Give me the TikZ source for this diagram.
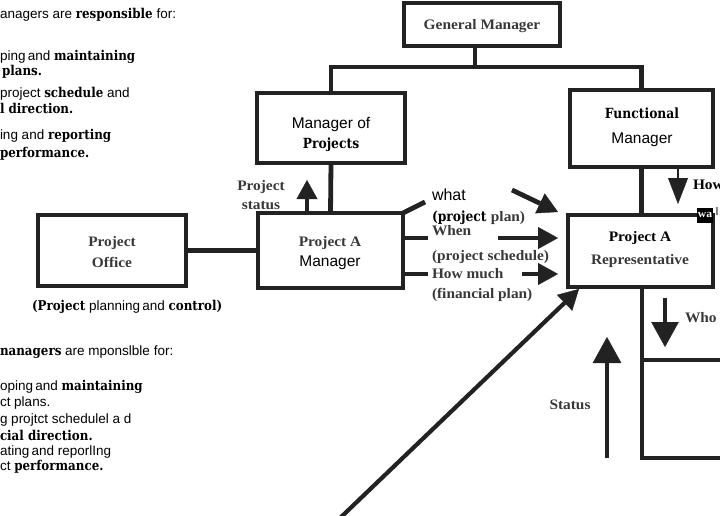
\documentclass[tikz,border=0pt]{standalone}
\usepackage{fontspec}
\setmainfont{Liberation Sans}
\newfontfamily\heavy{DejaVu Serif}[FakeStretch=0.88]
\newfontfamily\scn{Liberation Serif}[FakeStretch=1.06]
\usetikzlibrary{arrows.meta}
\definecolor{ink}{HTML}{222222}
\definecolor{scanink}{HTML}{383838}
\newcommand{\hv}[1]{{\heavy\bfseries #1}}

\begin{document}
\begin{tikzpicture}[x=1pt,y=-1pt,
  every node/.style={inner sep=0pt, outer sep=0pt},
  box/.style={draw=ink, line width=4.8pt, rectangle},
  wire/.style={draw=ink, line width=4.8pt},
  arr/.style={draw=ink, line width=4.8pt,
    -{Triangle[length=#1, width=1.1*#1, line width=0.4pt]}},
  arr/.default=20pt,
  body/.style={anchor=west, font=\fontsize{13.5}{15}\selectfont,
    text height=9.5pt, text depth=3pt},
  lab/.style={font=\fontsize{15.5}{17}\selectfont,
    text height=11pt, text depth=3.5pt},
  hvlab/.style={font=\heavy\bfseries\fontsize{14}{16}\selectfont,
    text height=10.5pt, text depth=3.5pt},
  scanlab/.style={font=\scn\bfseries\fontsize{14.5}{16}\selectfont,
    text=scanink, text height=10.5pt, text depth=3.5pt},
]
\useasboundingbox (0,0) rectangle (720,516);
\clip (0,0) rectangle (720,516);

% ---- responsibilities, first copy ----
\node[body] (t1) at (0,15)  {anagers are \hv{responsible} for:};
\node[body] (t2) at (0,57)  {ping\,and \hv{maintaining}};
\node[body] (t3) at (2,72)  {\hv{plans.}};
\node[body] (t4) at (0,94)  {project \hv{schedule} and};
\node[body] (t5) at (0,110) {\hv{l direction.}};
\node[body] (t6) at (0,136) {ing and \hv{reporting}};
\node[body] (t7) at (0,154) {\hv{performance.}};

% ---- responsibilities, second copy ----
\node[body] (pc) at (32,307) {\hv{(Project} planning\,and \hv{control)}};
\node[body] (b1) at (0,352) {\hv{nanagers} are mponslble for:};
\node[body] (b2) at (0,387) {oping\,and \hv{maintaining}};
\node[body] (b3) at (0,403) {ct plans.};
\node[body] (b4) at (0,420) {g projtct schedulel a d};
\node[body] (b5) at (0,437) {\hv{cial direction.}};
\node[body] (b6) at (0,452) {ating\,and reporlIng};
\node[body] (b7) at (0,467) {ct \hv{performance.}};

% ---- organisation boxes ----
\node[box, minimum width=156pt, minimum height=43pt] (gm)  at (482,24.5)  {};
\node[box, minimum width=148pt, minimum height=70pt] (mop) at (331,128)   {};
\node[box, minimum width=143pt, minimum height=77pt] (fm)  at (641.5,128.5) {};
\node[box, minimum width=145pt, minimum height=75pt] (pam) at (330.5,250.5) {};
\node[box, minimum width=148pt, minimum height=71pt] (po)  at (112,250.5) {};
\node[box, minimum width=145pt, minimum height=72pt] (par) at (640.5,251) {};
\node[box, minimum width=110pt, minimum height=98pt] (low) at (697,409)   {};

% box texts
\node[scanlab] (gmt)   at (482,26)  {General Manager};
\node[lab]     (mopt1) at (331,125) {Manager of};
\node[hvlab]   (mopt2) at (331,145) {Projects};
\node[hvlab]   (fmt1)  at (642,115) {Functional};
\node[lab]     (fmt2)  at (642,140) {Manager};
\node[scanlab] (pamt1) at (330,243) {Project A};
\node[lab]     (pamt2) at (330,263) {Manager};
\node[scanlab] (pot1)  at (112,243) {Project};
\node[scanlab] (pot2)  at (112,264) {Office};
\node[scanlab, text=black] (part1) at (640,238) {Project A};
\node[scanlab] (part2) at (640,261) {Representative};

% ---- tree lines ----
\coordinate (split) at (475,67);
\draw[wire] (gm.south -| split) -- (split);
\draw[wire] (mop.north) |- (split) -| (fm.north);
\draw[wire] (mop.south) -- (pam.north);
\draw[wire] (po.east) -- (pam.west);
\draw[wire] (fm.south) -- (fm.south |- par.north);
\draw[wire] (par.south -| low.west) -- (low.north west);

% ---- stubs from the project manager ----
\coordinate (whatend) at (425,202);
\coordinate (whenend) at (428,238);
\coordinate (muchend) at (428,274);
\draw[wire] (pam.north east) -- (whatend);
\draw[wire] (pam.east |- whenend) -- (whenend);
\draw[wire] (pam.east |- muchend) -- (muchend);

% ---- labels of the information flows ----
\node[scanlab, anchor=west] (when)   at (432,232) {When};
\node[anchor=west, font=\fontsize{16}{18}\selectfont, text height=11pt, text depth=3.5pt] (what) at (432,197) {what};
\node[anchor=west, font=\heavy\bfseries\fontsize{14}{16}\selectfont, text height=10.5pt, text depth=3.5pt] (pplan) at (432,218) {(project {\scn\fontsize{14.5}{16}\selectfont\color{scanink}plan)}};
\node[scanlab, anchor=west] (psched) at (432,257) {(project schedule)};
\node[scanlab, anchor=west] (much)   at (432,275) {How much};
\node[scanlab, anchor=west] (fplan)  at (432,295) {(financial plan)};

\node[scanlab] (ps1) at (261,187) {Project};
\node[scanlab] (ps2) at (261,206) {status};
\node[scanlab] (stat) at (570,406) {Status};
\node[scanlab, anchor=west] (who) at (685,319) {Who};
\node[scanlab, text=black, anchor=west] (how) at (693,186) {How};
\node[fill=black, text=white, minimum width=16pt, minimum height=15pt,
      font=\scn\bfseries\fontsize{11}{12}\selectfont] (wa) at (705,215) {wa};
\node[font=\fontsize{11}{12}\selectfont] (wl) at (717,212) {l};

% ---- arrows ----
\coordinate (pstip) at (307,180);
\draw[arr=19pt] (pam.north -| pstip) -- (pstip);

\coordinate (what0) at (512,190);
\draw[arr] (what0) -- ([xshift=-10pt,yshift=3pt]par.north west);
\coordinate (when0) at (498,238);
\draw[arr] (when0) -- ([xshift=-10pt]par.west |- whenend);
\coordinate (much0) at (522,274);
\draw[arr] (much0) -- ([xshift=-10pt]par.west |- muchend);

\coordinate (diag0) at (338,520);
\draw[arr, line width=4.2pt] (diag0) -- ([xshift=11pt,yshift=-2pt]par.south west);

\coordinate (howtip) at (678,204);
\draw[draw=ink, line width=2.5pt, -{Triangle[length=26pt, width=20pt, line width=0.4pt]}] (fm.south -| howtip) -- (howtip);

\coordinate (who0) at (665,298);
\coordinate (whotip) at (665,347);
\draw[arr=25pt] (who0) -- (whotip);

\coordinate (stat0) at (607,458);
\coordinate (stattip) at (607,337);
\draw[arr=26pt] (stat0) -- (stattip);
\end{tikzpicture}
\end{document}
